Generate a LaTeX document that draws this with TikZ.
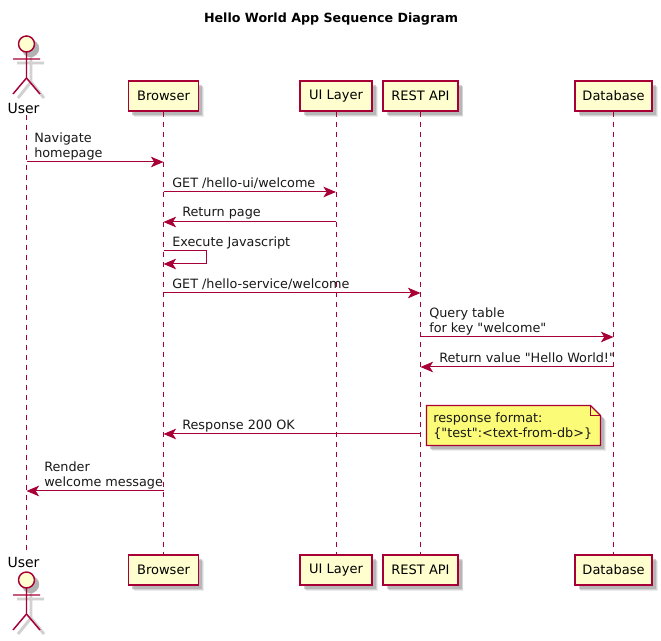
\documentclass[tikz,border=0pt]{standalone}
\usepackage{fontspec}
\newfontfamily\dgm{DejaVu Sans}[Ligatures=ResetAll]
\usetikzlibrary{arrows.meta}
\definecolor{pborder}{HTML}{A80036}
\definecolor{pfill}{HTML}{FEFECE}
\definecolor{pnote}{HTML}{FBFB77}
\tikzset{
  x=0.75pt,y=-0.75pt,
  softshadow/.style={preaction={draw=none,fill=black!45,opacity=.15,transform canvas={shift={(4.2pt,-4.2pt)}}},
    preaction={draw=none,fill=black!45,opacity=.25,transform canvas={shift={(3.5pt,-3.5pt)}}},
    preaction={draw=none,fill=black!45,opacity=.4,transform canvas={shift={(2.8pt,-2.8pt)}}}},
  pbox/.style={rectangle,draw=pborder,line width=1.1pt,fill=pfill,minimum height=22.5pt,inner xsep=0pt,inner ysep=0pt,text=black,font=\dgm\fontsize{9.75}{12}\selectfont,softshadow},
  lifeline/.style={draw=pborder,line width=.75pt,dash pattern=on 3.75pt off 3.75pt},
  msg/.style={draw=pborder,line width=.75pt,-{Stealth[length=9.5pt,width=8pt,inset=2.6pt]}},
  msgtext/.style={font=\dgm\fontsize{9.6}{11.6}\selectfont,inner sep=0pt,anchor=base west,align=left,text=black!90},
  actorline/.style={draw=pborder,line width=1.1pt},
  actorshadow/.style={draw=black!18,line width=2.2pt},
  actorlabel/.style={font=\dgm\fontsize{10.5}{12}\selectfont,inner sep=0pt,anchor=base,text=black},
}
\newcommand{\actorfig}[1]{%
  \begin{scope}[shift={(0,#1)}]
    \draw[actorshadow] (17,19)--(44,19) (31,4)--(31,38) (31,38)--(18,54) (31,38)--(44,54);
    \fill[black!30] (30.5,4.5) circle (6.5pt);
    \draw[actorline,fill=pfill] (26.5,0) circle (6pt);
    \draw[actorline] (26.5,8)--(26.5,34) (13,15)--(40,15) (26.5,34)--(13,50) (26.5,34)--(40,50);
  \end{scope}}
\begin{document}
\begin{tikzpicture}
\useasboundingbox (0,0) rectangle (661,641);
\fill[white] (0,0) rectangle (661,641);
\node[font=\dgm\fontsize{9.5}{12}\selectfont\bfseries,inner sep=0pt] (title) at (331,19) {Hello World App Sequence Diagram};
% boxes
\node[pbox,minimum width=52.5pt] (bt) at (163.5,96) {Browser};
\node[pbox,minimum width=52.5pt] (bb) at (163.5,570) {Browser};
\node[pbox,minimum width=54pt] (at) at (336,96) {UI Layer};
\node[pbox,minimum width=54pt] (ab) at (336,570) {UI Layer};
\node[pbox,minimum width=56pt] (rt) at (420.5,96) {REST API};
\node[pbox,minimum width=56pt] (rb) at (420.5,570) {REST API};
\node[pbox,minimum width=58pt] (dt) at (613.5,96) {Database};
\node[pbox,minimum width=58pt] (db) at (613.5,570) {Database};
% lifelines
\coordinate (ut) at (26.5,115); \coordinate (ub) at (26.5,551);
\draw[lifeline] (ut)--(ub);
\draw[lifeline] (bt.south)--(bb.north);
\draw[lifeline] (at.south)--(ab.north);
\draw[lifeline] (rt.south)--(rb.north);
\draw[lifeline] (dt.south)--(db.north);
% actors
\actorfig{44}
\actorfig{580}
\node[actorlabel] (ul1) at (23.5,114) {User};
\node[actorlabel] (ul2) at (23.5,568) {User};
% messages
\coordinate (m1a) at (26.5,162); \coordinate (m1b) at (163.5,162);
\draw[msg] (m1a)--(m1b);
\coordinate (m2a) at (163.5,192); \coordinate (m2b) at (336,192);
\draw[msg] (m2a)--(m2b);
\coordinate (m3a) at (336,222); \coordinate (m3b) at (163.5,222);
\draw[msg] (m3a)--(m3b);
\coordinate (m4a) at (163.5,251); \coordinate (m4c) at (206.5,251); \coordinate (m4d) at (206.5,264); \coordinate (m4b) at (163.5,264);
\draw[msg] (m4a)--(m4c)--(m4d)--(m4b);
\coordinate (m5a) at (163.5,293); \coordinate (m5b) at (420.5,293);
\draw[msg] (m5a)--(m5b);
\coordinate (m6a) at (420.5,337); \coordinate (m6b) at (613.5,337);
\draw[msg] (m6a)--(m6b);
\coordinate (m7a) at (613.5,367); \coordinate (m7b) at (420.5,367);
\draw[msg] (m7a)--(m7b);
\coordinate (m8a) at (420.5,434); \coordinate (m8b) at (163.5,434);
\draw[msg] (m8a)--(m8b);
\coordinate (m9a) at (163.5,491); \coordinate (m9b) at (26.5,491);
\draw[msg] (m9a)--(m9b);
\node[msgtext] (t1) at (34,158) {Navigate\\homepage};
\node[msgtext] (t2) at (172,188) {GET /hello-ui/welcome};
\node[msgtext] (t3) at (182,217) {Return page};
\node[msgtext] (t4) at (172,247) {Execute Javascript};
\node[msgtext] (t5) at (172,289) {GET /hello-service/welcome};
\node[msgtext] (t6) at (429,333) {Query table\\for key "welcome"};
\node[msgtext] (t7) at (439,363) {Return value "Hello World!"};
\node[msgtext] (t8) at (182,430) {Response 200 OK};
\node[msgtext] (t9) at (44,487) {Render\\welcome message};
% note
\fill[black!45,opacity=.15] (432,411)--(596,411)--(606,421)--(606,451)--(432,451)--cycle;
\fill[black!45,opacity=.25] (431,410)--(595,410)--(605,420)--(605,450)--(431,450)--cycle;
\fill[black!45,opacity=.4] (430,409)--(594,409)--(604,419)--(604,449)--(430,449)--cycle;
\draw[pborder,line width=.9pt,fill=pnote] (426.5,405.5)--(590.5,405.5)--(600.5,415.5)--(600.5,445.5)--(426.5,445.5)--cycle;
\draw[pborder,line width=.75pt] (590.5,405.5)--(590.5,415.5)--(600.5,415.5);
\node[msgtext] (note) at (433,438) {response format:\\\{"test":<text-from-db>\}};
\end{tikzpicture}
\end{document}
